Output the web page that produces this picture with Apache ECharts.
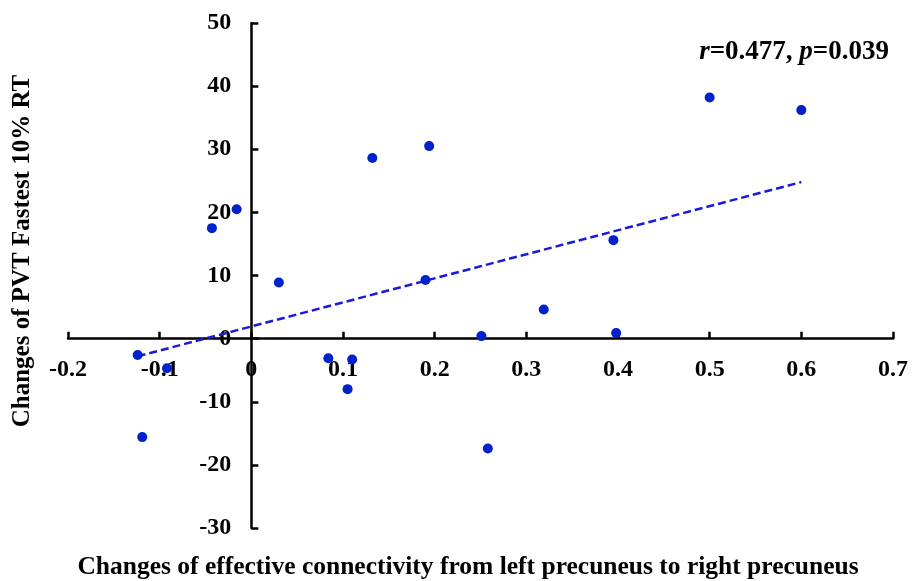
<!DOCTYPE html>
<html>
<head>
<meta charset="utf-8">
<script src="https://cdn.jsdelivr.net/npm/echarts@6/dist/echarts.min.js"></script>
<style>
  html, body { margin: 0; padding: 0; background: #fff; }
  #chart { width: 912px; height: 581px; }
</style>
</head>
<body>
<div id="chart"></div>
<script>
// connectivity change (x) and PVT fastest 10% RT change (y)
var connChange = [-0.124, -0.092, -0.119, 0.084, 0.110, 0.105, -0.043, -0.016, 0.030, 0.132,
                  0.194, 0.190, 0.500, 0.600, 0.395, 0.319, 0.251, 0.398, 0.258];
var rtChange = [-2.6, -4.7, -15.6, -3.1, -3.3, -8.0, 17.5, 20.5, 8.9, 28.6,
                30.5, 9.3, 38.2, 36.2, 15.6, 4.6, 0.4, 0.9, -17.4];
// linear fit end points
var fitX = [-0.124, 0.6];
var fitY = [-2.8, 24.8];

var xLabel = 'Changes of effective connectivity from left precuneus to right precuneus';
var yLabel = 'Changes of PVT Fastest 10% RT';

var serif = '"Liberation Serif", "DejaVu Serif", serif';

var points = connChange.map(function (x, i) { return [x, rtChange[i]]; });
var fitLine = fitX.map(function (x, i) { return [x, fitY[i]]; });

var grid = { left: 68, right: 19, top: 23, bottom: 53 };

var chart = echarts.init(document.getElementById('chart'));
chart.setOption({
    animation: false,
    backgroundColor: '#fff',
    grid: grid,
    xAxis: {
        type: 'value',
        min: -0.2,
        max: 0.7,
        interval: 0.1,
        axisLine: { onZero: false, lineStyle: { color: '#000', width: 2.5 } },
        axisTick: { inside: true, length: 7, lineStyle: { color: '#000', width: 2.5 } },
        axisLabel: {
            margin: 19,
            color: '#000',
            fontFamily: serif,
            fontWeight: 'bold',
            fontSize: 24,
            formatter: function (v) { return +v.toFixed(1) + ''; }
        },
        splitLine: { show: false }
    },
    yAxis: {
        type: 'value',
        min: -30,
        max: 50,
        interval: 10,
        axisLine: { onZero: false, lineStyle: { color: '#000', width: 2.5 } },
        axisTick: { inside: true, length: 7, lineStyle: { color: '#000', width: 2.5 } },
        axisLabel: {
            margin: 20,
            color: '#000',
            fontFamily: serif,
            fontWeight: 'bold',
            fontSize: 24
        },
        splitLine: { show: false }
    },
    series: [
        {
            type: 'line',
            data: fitLine,
            symbol: 'none',
            lineStyle: { color: '#1a1adc', width: 2.5, type: [8, 4] },
            z: 2
        },
        {
            type: 'scatter',
            data: points,
            symbolSize: 10,
            itemStyle: { color: '#0022cc', opacity: 1 },
            z: 3
        }
    ],
    graphic: {
        elements: [
            {
                type: 'text',
                x: 468,
                y: 567,
                style: {
                    text: xLabel,
                    font: 'bold 25.5px ' + serif,
                    fill: '#000',
                    align: 'center',
                    verticalAlign: 'middle'
                }
            },
            {
                type: 'text',
                x: 23,
                y: 251,
                rotation: Math.PI / 2,
                style: {
                    text: yLabel,
                    font: 'bold 25px ' + serif,
                    fill: '#000',
                    align: 'center',
                    verticalAlign: 'middle'
                }
            },
            {
                type: 'text',
                x: 889,
                y: 52,
                style: {
                    text: '{i|r}{b|=0.477, }{i|p}{b|=0.039}',
                    align: 'right',
                    verticalAlign: 'middle',
                    rich: {
                        i: { fontFamily: serif, fontStyle: 'italic', fontWeight: 'bold', fontSize: 27, fill: '#000' },
                        b: { fontFamily: serif, fontWeight: 'bold', fontSize: 27, fill: '#000' }
                    }
                }
            }
        ]
    }
});

// move both axes (line, ticks and labels) to cross at the origin
var origin = chart.convertToPixel({ gridIndex: 0 }, [0, 0]);
var bottomEdge = 581 - grid.bottom;
chart.setOption({
    xAxis: { offset: -(bottomEdge - origin[1]) },
    yAxis: { offset: -(origin[0] - grid.left) }
});
</script>
</body>
</html>
